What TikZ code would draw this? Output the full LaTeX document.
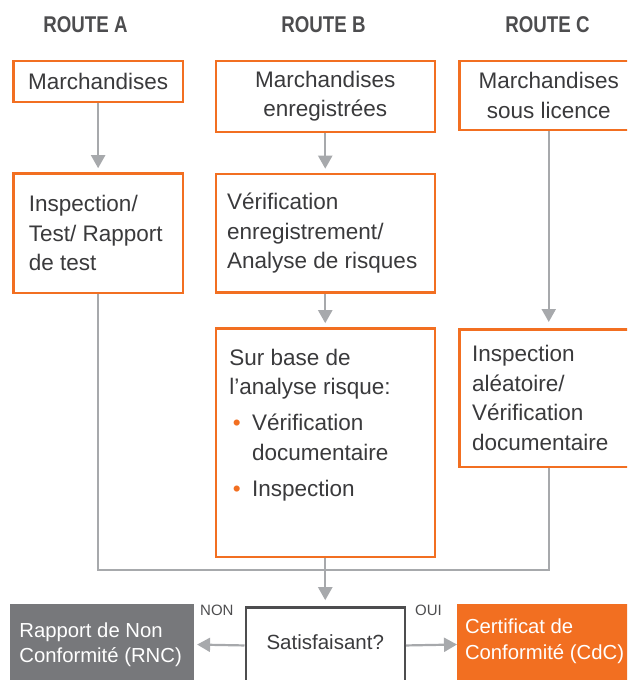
\documentclass[tikz,border=0pt]{standalone}
\usepackage{fontspec}
\setmainfont{Liberation Sans}
\newfontfamily\headfont[FakeStretch=0.82]{Liberation Sans}
\usetikzlibrary{arrows.meta}
\definecolor{korange}{HTML}{F26F21}
\definecolor{kgray}{HTML}{A7A9AC}
\definecolor{kdark}{HTML}{4D4D4F}
\definecolor{kbox}{HTML}{77787B}
\definecolor{ktext}{HTML}{3A3A3C}
\newcommand\kbullet{\makebox[22.6pt][l]{\hspace{3.5pt}\textcolor{korange}{\textbullet}}}
\begin{document}
\begin{tikzpicture}[x=1pt,y=-1pt,
  head/.style={anchor=base, inner sep=0pt, text=kdark, font=\headfont\bfseries\fontsize{22.8}{26}\selectfont},
  routebox/.style={draw=korange, line width=2.5pt, fill=white, anchor=north west, inner sep=0pt, align=center, text=ktext, font=\fontsize{22.5}{29.5}\selectfont},
  boxtext/.style={inner sep=0pt, align=left, text=ktext, font=\fontsize{22.5}{29.5}\selectfont},
  endtext/.style={inner sep=0pt, align=left, text=white, font=\fontsize{20.3}{25.5}\selectfont},
  lbl/.style={anchor=base west, inner sep=0pt, text=kdark, font=\fontsize{15}{18}\selectfont},
  line/.style={draw=kgray, line width=2.2pt},
  flow/.style={line, -{Triangle[length=13pt,width=14pt]}, shorten >=4pt}]
\useasboundingbox (0,0) rectangle (627,680);
\clip (0,0) rectangle (627,680);
\node[head] (routea) at (85.5,32.3) {ROUTE A};
\node[head] (routeb) at (323.5,32.3) {ROUTE B};
\node[head] (routec) at (547.5,32.3) {ROUTE C};
\node[routebox, minimum width=169.25pt, minimum height=41pt] (a1) at (12.25,59.5) {Marchandises};
\node[routebox, minimum width=219pt, minimum height=71.3pt] (b1) at (214.5,59.5) {Marchandises\\enregistrées};
\node[routebox, minimum width=178.6pt, minimum height=69.3pt] (c1) at (458.2,59.5) {Marchandises\\sous licence};
\node[routebox, minimum width=169.25pt, minimum height=119.6pt] (a2) at (12.25,172.2) {};
\node[boxtext, anchor=west] (a2txt) at ([xshift=16.5pt]a2.west) {Inspection/\\Test/ Rapport\\de test};
\node[routebox, minimum width=219pt, minimum height=118.6pt] (b2) at (214.5,172.7) {};
\node[boxtext, anchor=west] (b2txt) at ([xshift=12.5pt]b2.west) {Vérification\\enregistrement/\\Analyse de risques};
\node[routebox, minimum width=219pt, minimum height=228.3pt] (b3) at (214.5,327.2) {};
\node[boxtext, anchor=north west] (b3txt) at ([xshift=14.7pt,yshift=-21.4pt]b3.north west) {Sur base de\\l’analyse risque:\\[6.5pt]\kbullet Vérification\\\hspace*{22.6pt}documentaire\\[6.5pt]\kbullet Inspection};
\node[routebox, minimum width=178.6pt, minimum height=137.5pt] (c2) at (458.2,328) {};
\node[boxtext, anchor=west] (c2txt) at ([xshift=13.6pt]c2.west) {Inspection\\aléatoire/\\Vérification\\documentaire};
\node[draw=kdark, line width=2.5pt, anchor=north west, inner sep=0pt, minimum width=159pt, minimum height=76pt, text depth=7pt, text=ktext, font=\fontsize{20.5}{25}\selectfont] (sat) at (244.5,606.2) {Satisfaisant?};
\node[fill=kbox, anchor=north west, inner sep=0pt, minimum width=183.3pt, minimum height=82pt] (rnc) at (10,603.3) {};
\node[endtext, anchor=west] (rnctxt) at ([xshift=9.2pt]rnc.west) {Rapport de Non\\Conformité (RNC)};
\node[fill=korange, anchor=north west, inner sep=0pt, minimum width=180pt, minimum height=82pt] (cdc) at (457,603.3) {};
\node[endtext, anchor=west] (cdctxt) at ([xshift=7.8pt,yshift=3.5pt]cdc.west) {Certificat de\\Conformité (CdC)};
\node[lbl] (non) at (200,615) {NON};
\node[lbl] (oui) at (415,615) {OUI};
\coordinate (join) at (b3.south |- 0,570);
\draw[flow](a1.south) -- (a2.north);
\draw[flow](b1.south) -- (b2.north);
\draw[flow](b2.south) -- (b3.north);
\draw[flow, shorten >=6pt](c1.south) -- (c2.north);
\draw[line](a2.south) |- (join) -| (c2.south);
\draw[flow, shorten >=6pt](b3.south) -- (join) -- (b3.south |- sat.north);
\draw[flow, shorten >=3.4pt](sat.west) -- (rnc.east);
\draw[flow, shorten >=0pt](sat.east) -- (cdc.west);
\end{tikzpicture}
\end{document}
